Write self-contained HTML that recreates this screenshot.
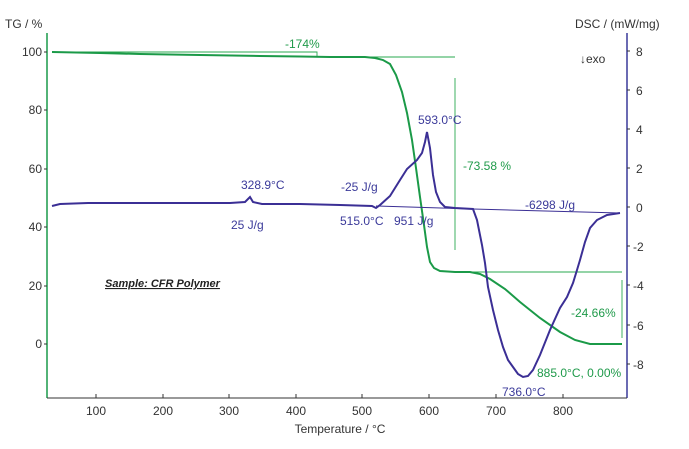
<!DOCTYPE html>
<html><head><style>body{margin:0;background:#fff}svg{display:block;font-family:"Liberation Sans",sans-serif}</style></head><body>
<svg width="689" height="449" viewBox="0 0 689 449">
<line x1="47" y1="33" x2="47" y2="398" stroke="#1a9a4a" stroke-width="1.5"/>
<line x1="627" y1="33" x2="627" y2="398" stroke="#3a3a9a" stroke-width="1.5"/>
<line x1="47" y1="398" x2="627" y2="398" stroke="#333" stroke-width="1"/>
<g font-size="12" fill="#333">
<text x="5" y="28">TG / %</text>
<text x="575" y="28">DSC / (mW/mg)</text>
<text x="580" y="63">↓exo</text>
<g text-anchor="end">
<text x="42" y="56">100</text><text x="42" y="114">80</text><text x="42" y="173">60</text><text x="42" y="231">40</text><text x="42" y="290">20</text><text x="42" y="348">0</text>
</g>
<g>
<text x="636" y="56">8</text><text x="636" y="95">6</text><text x="636" y="134">4</text><text x="636" y="173">2</text><text x="636" y="212">0</text>
<text x="633" y="251">-2</text><text x="633" y="290">-4</text><text x="633" y="330">-6</text><text x="633" y="369">-8</text>
</g>
<g text-anchor="middle">
<text x="96" y="415">100</text><text x="163" y="415">200</text><text x="229" y="415">300</text><text x="296" y="415">400</text><text x="362" y="415">500</text><text x="429" y="415">600</text><text x="496" y="415">700</text><text x="563" y="415">800</text>
<text x="340" y="433">Temperature / °C</text>
</g>
</g>
<g stroke="#333" stroke-width="1">
<path d="M96 398v-4M163 398v-4M229 398v-4M296 398v-4M362 398v-4M429 398v-4M496 398v-4M563 398v-4"/>
<path d="M47 52h-3M47 110h-3M47 169h-3M47 227h-3M47 286h-3M47 344h-3M627 51h3M627 90h3M627 129h3M627 168h3M627 207h3M627 246h3M627 285h3M627 325h3M627 364h3"/>
</g>
<text x="105" y="287" font-size="11" font-weight="bold" font-style="italic" fill="#222" text-decoration="underline">Sample: CFR Polymer</text>
<g stroke="#2aa84f" stroke-width="0.9" fill="none">
<path d="M52 52H317V57"/>
<path d="M317 57H455"/>
<path d="M455 78V250"/>
<path d="M455 272H622"/>
<path d="M622 280V338"/>
</g>
<path d="M52 52L100 53L140 54L200 55L260 56L300 56.5L330 57L365 57L375 58L383 60L390 64L396 75L402 92L407 113L412 140L416 168L420 197L424 225L427 247L430 262L434 268L440 271L455 272L470 272L480 274L490 279L505 289L520 302L540 318L560 332L575 340L590 344L622 344" fill="none" stroke="#1b9a48" stroke-width="2"/>
<path d="M52 206L60 204L88 203L200 203L230 203L245 202L250 197L253 202L262 204L300 204L340 205L372 206L376 208L380 205L390 196L400 180L407 169L417 160L422 153L425 142L427 132L430 148L433 175L436 192L440 202L445 207L455 208L473 209L477 220L482 245L485 263L488 287L493 310L498 330L503 347L508 360L513 367L518 374L523 377L528 376L533 370L540 355L550 330L560 308L567 297L573 283L577 270L580 260L585 242L590 228L597 220L607 215L620 213" fill="none" stroke="#3b2f95" stroke-width="2"/>
<path d="M376 206L473 209L620 213" fill="none" stroke="#3b2f95" stroke-width="1"/>
<g font-size="12" fill="#1f9a4a">
<text x="285" y="48">-174%</text>
<text x="463" y="170">-73.58 %</text>
<text x="571" y="317">-24.66%</text>
<text x="537" y="377">885.0°C, 0.00%</text>
</g>
<g font-size="12" fill="#3b3a9a">
<text x="241" y="189">328.9°C</text>
<text x="231" y="229">25 J/g</text>
<text x="341" y="191">-25 J/g</text>
<text x="340" y="225">515.0°C</text>
<text x="394" y="225">951 J/g</text>
<text x="418" y="124">593.0°C</text>
<text x="525" y="209">-6298 J/g</text>
<text x="502" y="396">736.0°C</text>
</g>
</svg>
</body></html>
